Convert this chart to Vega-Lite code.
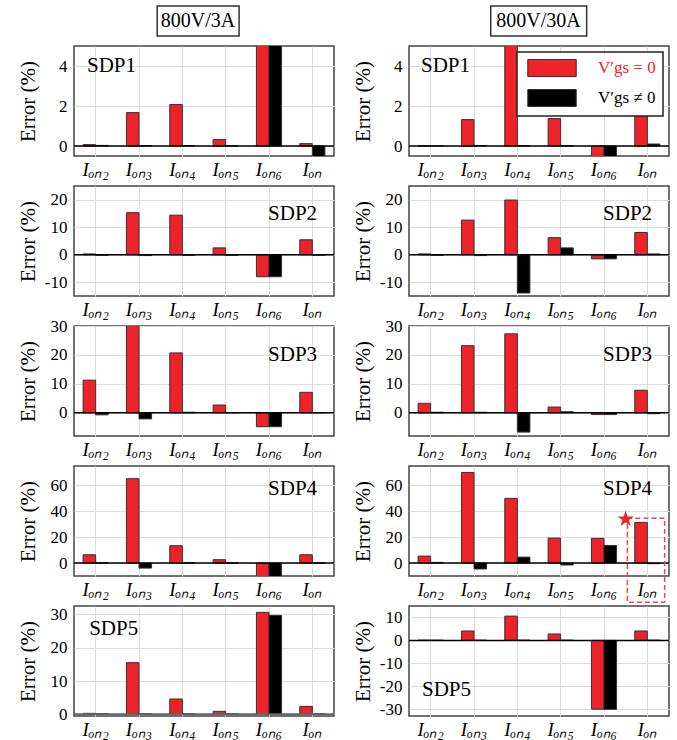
{
"$schema":"https://vega.github.io/schema/vega-lite/v6.json",
"padding":{"left":16,"top":4,"right":5,"bottom":2},
"datasets":{
"bars":[
{"p":"L1","c":"Iₒₙ₂","s":"eq","v":0.07},{"p":"L1","c":"Iₒₙ₂","s":"ne","v":0.03},
{"p":"L1","c":"Iₒₙ₃","s":"eq","v":1.67},{"p":"L1","c":"Iₒₙ₃","s":"ne","v":0.02},
{"p":"L1","c":"Iₒₙ₄","s":"eq","v":2.07},{"p":"L1","c":"Iₒₙ₄","s":"ne","v":0.02},
{"p":"L1","c":"Iₒₙ₅","s":"eq","v":0.33},{"p":"L1","c":"Iₒₙ₅","s":"ne","v":0.01},
{"p":"L1","c":"Iₒₙ₆","s":"eq","v":8},{"p":"L1","c":"Iₒₙ₆","s":"ne","v":7},
{"p":"L1","c":"Iₒₙ","s":"eq","v":0.12},{"p":"L1","c":"Iₒₙ","s":"ne","v":-0.6},
{"p":"R1","c":"Iₒₙ₂","s":"eq","v":0.01},{"p":"R1","c":"Iₒₙ₂","s":"ne","v":0.01},
{"p":"R1","c":"Iₒₙ₃","s":"eq","v":1.32},{"p":"R1","c":"Iₒₙ₃","s":"ne","v":0.02},
{"p":"R1","c":"Iₒₙ₄","s":"eq","v":6.5},{"p":"R1","c":"Iₒₙ₄","s":"ne","v":0.02},
{"p":"R1","c":"Iₒₙ₅","s":"eq","v":1.37},{"p":"R1","c":"Iₒₙ₅","s":"ne","v":0.02},
{"p":"R1","c":"Iₒₙ₆","s":"eq","v":-0.6},{"p":"R1","c":"Iₒₙ₆","s":"ne","v":-0.6},
{"p":"R1","c":"Iₒₙ","s":"eq","v":1.73},{"p":"R1","c":"Iₒₙ","s":"ne","v":0.1},
{"p":"L2","c":"Iₒₙ₂","s":"eq","v":0.3},{"p":"L2","c":"Iₒₙ₂","s":"ne","v":-0.2},
{"p":"L2","c":"Iₒₙ₃","s":"eq","v":15.3},{"p":"L2","c":"Iₒₙ₃","s":"ne","v":-0.3},
{"p":"L2","c":"Iₒₙ₄","s":"eq","v":14.4},{"p":"L2","c":"Iₒₙ₄","s":"ne","v":-0.2},
{"p":"L2","c":"Iₒₙ₅","s":"eq","v":2.5},{"p":"L2","c":"Iₒₙ₅","s":"ne","v":-0.2},
{"p":"L2","c":"Iₒₙ₆","s":"eq","v":-8.0},{"p":"L2","c":"Iₒₙ₆","s":"ne","v":-8.0},
{"p":"L2","c":"Iₒₙ","s":"eq","v":5.45},{"p":"L2","c":"Iₒₙ","s":"ne","v":-0.2},
{"p":"R2","c":"Iₒₙ₂","s":"eq","v":0.3},{"p":"R2","c":"Iₒₙ₂","s":"ne","v":-0.2},
{"p":"R2","c":"Iₒₙ₃","s":"eq","v":12.6},{"p":"R2","c":"Iₒₙ₃","s":"ne","v":-0.3},
{"p":"R2","c":"Iₒₙ₄","s":"eq","v":19.9},{"p":"R2","c":"Iₒₙ₄","s":"ne","v":-13.9},
{"p":"R2","c":"Iₒₙ₅","s":"eq","v":6.2},{"p":"R2","c":"Iₒₙ₅","s":"ne","v":2.5},
{"p":"R2","c":"Iₒₙ₆","s":"eq","v":-1.5},{"p":"R2","c":"Iₒₙ₆","s":"ne","v":-1.5},
{"p":"R2","c":"Iₒₙ","s":"eq","v":8.1},{"p":"R2","c":"Iₒₙ","s":"ne","v":0.3},
{"p":"L3","c":"Iₒₙ₂","s":"eq","v":11.3},{"p":"L3","c":"Iₒₙ₂","s":"ne","v":-0.7},
{"p":"L3","c":"Iₒₙ₃","s":"eq","v":30.5},{"p":"L3","c":"Iₒₙ₃","s":"ne","v":-2.1},
{"p":"L3","c":"Iₒₙ₄","s":"eq","v":20.7},{"p":"L3","c":"Iₒₙ₄","s":"ne","v":0.2},
{"p":"L3","c":"Iₒₙ₅","s":"eq","v":2.7},{"p":"L3","c":"Iₒₙ₅","s":"ne","v":0.1},
{"p":"L3","c":"Iₒₙ₆","s":"eq","v":-4.8},{"p":"L3","c":"Iₒₙ₆","s":"ne","v":-4.8},
{"p":"L3","c":"Iₒₙ","s":"eq","v":7.1},{"p":"L3","c":"Iₒₙ","s":"ne","v":0.1},
{"p":"R3","c":"Iₒₙ₂","s":"eq","v":3.3},{"p":"R3","c":"Iₒₙ₂","s":"ne","v":0.2},
{"p":"R3","c":"Iₒₙ₃","s":"eq","v":23.2},{"p":"R3","c":"Iₒₙ₃","s":"ne","v":0.2},
{"p":"R3","c":"Iₒₙ₄","s":"eq","v":27.3},{"p":"R3","c":"Iₒₙ₄","s":"ne","v":-6.65},
{"p":"R3","c":"Iₒₙ₅","s":"eq","v":2.0},{"p":"R3","c":"Iₒₙ₅","s":"ne","v":0.4},
{"p":"R3","c":"Iₒₙ₆","s":"eq","v":-0.6},{"p":"R3","c":"Iₒₙ₆","s":"ne","v":-0.6},
{"p":"R3","c":"Iₒₙ","s":"eq","v":7.8},{"p":"R3","c":"Iₒₙ","s":"ne","v":-0.3},
{"p":"L4","c":"Iₒₙ₂","s":"eq","v":6.4},{"p":"L4","c":"Iₒₙ₂","s":"ne","v":0.3},
{"p":"L4","c":"Iₒₙ₃","s":"eq","v":65.2},{"p":"L4","c":"Iₒₙ₃","s":"ne","v":-3.9},
{"p":"L4","c":"Iₒₙ₄","s":"eq","v":13.4},{"p":"L4","c":"Iₒₙ₄","s":"ne","v":0.3},
{"p":"L4","c":"Iₒₙ₅","s":"eq","v":2.6},{"p":"L4","c":"Iₒₙ₅","s":"ne","v":0.3},
{"p":"L4","c":"Iₒₙ₆","s":"eq","v":-12},{"p":"L4","c":"Iₒₙ₆","s":"ne","v":-12},
{"p":"L4","c":"Iₒₙ","s":"eq","v":6.4},{"p":"L4","c":"Iₒₙ","s":"ne","v":0.3},
{"p":"R4","c":"Iₒₙ₂","s":"eq","v":5.4},{"p":"R4","c":"Iₒₙ₂","s":"ne","v":0.5},
{"p":"R4","c":"Iₒₙ₃","s":"eq","v":70},{"p":"R4","c":"Iₒₙ₃","s":"ne","v":-4.6},
{"p":"R4","c":"Iₒₙ₄","s":"eq","v":50},{"p":"R4","c":"Iₒₙ₄","s":"ne","v":4.6},
{"p":"R4","c":"Iₒₙ₅","s":"eq","v":19.3},{"p":"R4","c":"Iₒₙ₅","s":"ne","v":-1.5},
{"p":"R4","c":"Iₒₙ₆","s":"eq","v":19.1},{"p":"R4","c":"Iₒₙ₆","s":"ne","v":13.6},
{"p":"R4","c":"Iₒₙ","s":"eq","v":31.4},{"p":"R4","c":"Iₒₙ","s":"ne","v":-0.5},
{"p":"L5","c":"Iₒₙ₂","s":"eq","v":0.3},{"p":"L5","c":"Iₒₙ₂","s":"ne","v":0.2},
{"p":"L5","c":"Iₒₙ₃","s":"eq","v":15.5},{"p":"L5","c":"Iₒₙ₃","s":"ne","v":0.2},
{"p":"L5","c":"Iₒₙ₄","s":"eq","v":4.6},{"p":"L5","c":"Iₒₙ₄","s":"ne","v":0.2},
{"p":"L5","c":"Iₒₙ₅","s":"eq","v":0.9},{"p":"L5","c":"Iₒₙ₅","s":"ne","v":0.2},
{"p":"L5","c":"Iₒₙ₆","s":"eq","v":30.6},{"p":"L5","c":"Iₒₙ₆","s":"ne","v":29.7},
{"p":"L5","c":"Iₒₙ","s":"eq","v":2.4},{"p":"L5","c":"Iₒₙ","s":"ne","v":0.2},
{"p":"R5","c":"Iₒₙ₂","s":"eq","v":0.1},{"p":"R5","c":"Iₒₙ₂","s":"ne","v":0.1},
{"p":"R5","c":"Iₒₙ₃","s":"eq","v":4.1},{"p":"R5","c":"Iₒₙ₃","s":"ne","v":0.1},
{"p":"R5","c":"Iₒₙ₄","s":"eq","v":10.6},{"p":"R5","c":"Iₒₙ₄","s":"ne","v":0.1},
{"p":"R5","c":"Iₒₙ₅","s":"eq","v":2.8},{"p":"R5","c":"Iₒₙ₅","s":"ne","v":0.1},
{"p":"R5","c":"Iₒₙ₆","s":"eq","v":-30},{"p":"R5","c":"Iₒₙ₆","s":"ne","v":-30.1},
{"p":"R5","c":"Iₒₙ","s":"eq","v":4.1},{"p":"R5","c":"Iₒₙ","s":"ne","v":0.1}
],
"labels":[
{"p":"L1","x":0.3,"y":4,"t":"SDP1"},{"p":"R1","x":0.277,"y":4,"t":"SDP1"},
{"p":"L2","x":5.61,"y":15,"t":"SDP2"},{"p":"R2","x":5.61,"y":15,"t":"SDP2"},
{"p":"L3","x":5.61,"y":20,"t":"SDP3"},{"p":"R3","x":5.61,"y":20,"t":"SDP3"},
{"p":"L4","x":5.61,"y":57,"t":"SDP4"},{"p":"R4","x":5.61,"y":57,"t":"SDP4"},
{"p":"L5","x":0.35,"y":25.5,"t":"SDP5"},{"p":"R5","x":0.3,"y":-21.7,"t":"SDP5"}
],
"headers":[
{"p":"L1","x":1.92,"x2":3.81,"y":5.5,"y2":7.0,"xm":2.86,"ym":6.25,"t":"800V/3A"},
{"p":"R1","x":1.886,"x2":4.10,"y":5.5,"y2":7.0,"xm":2.99,"ym":6.25,"t":"800V/30A"}
],
"marks":[
{"p":"R4","x":5.04,"x2":5.9,"y":34.7,"y2":-30.3,"sx":5.0,"sy":34}
]
},
"columns":2,
"spacing":{"row":30,"column":75},
"bounds":"flush",
"resolve":{"scale":{"color":"independent"},"legend":{"color":"independent"}},
"concat":[
{"width":260,"height":110,"resolve":{"scale":{"x":"independent"}},"layer":[
 {"data":{"name":"bars"},"transform":[{"filter":"datum.p=='L1'"}],"mark":{"type":"bar","clip":true,"stroke":"#333333","strokeWidth":1},
  "encoding":{"x":{"field":"c","type":"nominal","sort":["Iₒₙ₂","Iₒₙ₃","Iₒₙ₄","Iₒₙ₅","Iₒₙ₆","Iₒₙ"],"title":null,"scale":{"paddingInner":0.42,"paddingOuter":0.21},"axis":{"bandPosition":0.5}},
   "xOffset":{"field":"s","type":"nominal","sort":["eq","ne"]},
   "y":{"field":"v","type":"quantitative","scale":{"domain":[-0.5,5],"nice":false,"zero":false},"axis":{"values":[0,2,4],"tickCount":20,"title":"Error (%)","labelOverlap":false}},
   "color":{"field":"s","type":"nominal","scale":{"domain":["eq","ne"],"range":["#ee2229","#000000"]},"legend":null}}},
 {"data":{"values":[{}]},"mark":{"type":"rule","color":"#000000","strokeWidth":1.5},"encoding":{"y":{"datum":0}}},
 {"layer":[
  {"data":{"name":"labels"},"transform":[{"filter":"datum.p=='L1'"}],"mark":{"type":"text","align":"left","baseline":"middle","fontSize":21},
   "encoding":{"x":{"field":"x","type":"quantitative","scale":{"domain":[0,6]},"axis":null},"y":{"field":"y","type":"quantitative","scale":{"domain":[-0.5,5],"nice":false,"zero":false}},"text":{"field":"t"}}},
  {"data":{"name":"headers"},"transform":[{"filter":"datum.p=='L1'"}],"mark":{"type":"rect","fill":"#ffffff","stroke":"#333333","strokeWidth":1.5,"clip":false},
   "encoding":{"x":{"field":"x","type":"quantitative","scale":{"domain":[0,6]},"axis":null},"x2":{"field":"x2"},"y":{"field":"y","type":"quantitative","scale":{"domain":[-0.5,5],"nice":false,"zero":false}},"y2":{"field":"y2"}}},
  {"data":{"name":"headers"},"transform":[{"filter":"datum.p=='L1'"}],"mark":{"type":"text","align":"center","baseline":"middle","fontSize":20},
   "encoding":{"x":{"field":"xm","type":"quantitative","scale":{"domain":[0,6]},"axis":null},"y":{"field":"ym","type":"quantitative","scale":{"domain":[-0.5,5],"nice":false,"zero":false}},"text":{"field":"t"}}}
 ]}
]},
{"width":260,"height":110,"resolve":{"scale":{"x":"independent"}},"layer":[
 {"data":{"name":"bars"},"transform":[{"filter":"datum.p=='R1'"}],"mark":{"type":"bar","clip":true,"stroke":"#333333","strokeWidth":1},
  "encoding":{"x":{"field":"c","type":"nominal","sort":["Iₒₙ₂","Iₒₙ₃","Iₒₙ₄","Iₒₙ₅","Iₒₙ₆","Iₒₙ"],"title":null,"scale":{"paddingInner":0.42,"paddingOuter":0.21},"axis":{"bandPosition":0.5}},
   "xOffset":{"field":"s","type":"nominal","sort":["eq","ne"]},
   "y":{"field":"v","type":"quantitative","scale":{"domain":[-0.5,5],"nice":false,"zero":false},"axis":{"values":[0,2,4],"tickCount":20,"title":"Error (%)","labelOverlap":false}},
   "color":{"field":"s","type":"nominal","scale":{"domain":["eq","ne"],"range":["#ee2229","#000000"]},
    "legend":{"orient":"top-right","title":null,"offset":6,"padding":7,"fillColor":"#ffffff","strokeColor":"#222222","symbolType":"M-2.85,-1H2.85V1H-2.85Z","symbolSize":289,"symbolOffset":19,"symbolStrokeColor":"#333333","symbolStrokeWidth":1,"labelFontSize":17,"labelOffset":37,"rowPadding":8,"labelFont":"Liberation Serif",
     "labelExpr":"datum.value == 'eq' ? 'V′gs = 0' : 'V′gs ≠ 0'",
     "encode":{"legend":{"update":{"strokeWidth":{"value":1.5}}},"labels":{"update":{"fill":{"signal":"datum.value == 'eq' ? '#ee2229' : '#000000'"}}}}}}}},
 {"data":{"values":[{}]},"mark":{"type":"rule","color":"#000000","strokeWidth":1.5},"encoding":{"y":{"datum":0}}},
 {"layer":[
  {"data":{"name":"labels"},"transform":[{"filter":"datum.p=='R1'"}],"mark":{"type":"text","align":"left","baseline":"middle","fontSize":21},
   "encoding":{"x":{"field":"x","type":"quantitative","scale":{"domain":[0,6]},"axis":null},"y":{"field":"y","type":"quantitative","scale":{"domain":[-0.5,5],"nice":false,"zero":false}},"text":{"field":"t"}}},
  {"data":{"name":"headers"},"transform":[{"filter":"datum.p=='R1'"}],"mark":{"type":"rect","fill":"#ffffff","stroke":"#333333","strokeWidth":1.5,"clip":false},
   "encoding":{"x":{"field":"x","type":"quantitative","scale":{"domain":[0,6]},"axis":null},"x2":{"field":"x2"},"y":{"field":"y","type":"quantitative","scale":{"domain":[-0.5,5],"nice":false,"zero":false}},"y2":{"field":"y2"}}},
  {"data":{"name":"headers"},"transform":[{"filter":"datum.p=='R1'"}],"mark":{"type":"text","align":"center","baseline":"middle","fontSize":20},
   "encoding":{"x":{"field":"xm","type":"quantitative","scale":{"domain":[0,6]},"axis":null},"y":{"field":"ym","type":"quantitative","scale":{"domain":[-0.5,5],"nice":false,"zero":false}},"text":{"field":"t"}}}
 ]}
]},
{"width":260,"height":110,"resolve":{"scale":{"x":"independent"}},"layer":[
 {"data":{"name":"bars"},"transform":[{"filter":"datum.p=='L2'"}],"mark":{"type":"bar","clip":true,"stroke":"#333333","strokeWidth":1},
  "encoding":{"x":{"field":"c","type":"nominal","sort":["Iₒₙ₂","Iₒₙ₃","Iₒₙ₄","Iₒₙ₅","Iₒₙ₆","Iₒₙ"],"title":null,"scale":{"paddingInner":0.42,"paddingOuter":0.21},"axis":{"bandPosition":0.5}},
   "xOffset":{"field":"s","type":"nominal","sort":["eq","ne"]},
   "y":{"field":"v","type":"quantitative","scale":{"domain":[-15,25],"nice":false,"zero":false},"axis":{"values":[-10,0,10,20],"tickCount":20,"title":"Error (%)","labelOverlap":false}},
   "color":{"field":"s","type":"nominal","scale":{"domain":["eq","ne"],"range":["#ee2229","#000000"]},"legend":null}}},
 {"data":{"values":[{}]},"mark":{"type":"rule","color":"#000000","strokeWidth":1.5},"encoding":{"y":{"datum":0}}},
 {"data":{"name":"labels"},"transform":[{"filter":"datum.p=='L2'"}],"mark":{"type":"text","align":"right","baseline":"middle","fontSize":21},
   "encoding":{"x":{"field":"x","type":"quantitative","scale":{"domain":[0,6]},"axis":null},"y":{"field":"y","type":"quantitative","scale":{"domain":[-15,25],"nice":false,"zero":false}},"text":{"field":"t"}}}
]},
{"width":260,"height":110,"resolve":{"scale":{"x":"independent"}},"layer":[
 {"data":{"name":"bars"},"transform":[{"filter":"datum.p=='R2'"}],"mark":{"type":"bar","clip":true,"stroke":"#333333","strokeWidth":1},
  "encoding":{"x":{"field":"c","type":"nominal","sort":["Iₒₙ₂","Iₒₙ₃","Iₒₙ₄","Iₒₙ₅","Iₒₙ₆","Iₒₙ"],"title":null,"scale":{"paddingInner":0.42,"paddingOuter":0.21},"axis":{"bandPosition":0.5}},
   "xOffset":{"field":"s","type":"nominal","sort":["eq","ne"]},
   "y":{"field":"v","type":"quantitative","scale":{"domain":[-15,25],"nice":false,"zero":false},"axis":{"values":[-10,0,10,20],"tickCount":20,"title":"Error (%)","labelOverlap":false}},
   "color":{"field":"s","type":"nominal","scale":{"domain":["eq","ne"],"range":["#ee2229","#000000"]},"legend":null}}},
 {"data":{"values":[{}]},"mark":{"type":"rule","color":"#000000","strokeWidth":1.5},"encoding":{"y":{"datum":0}}},
 {"data":{"name":"labels"},"transform":[{"filter":"datum.p=='R2'"}],"mark":{"type":"text","align":"right","baseline":"middle","fontSize":21},
   "encoding":{"x":{"field":"x","type":"quantitative","scale":{"domain":[0,6]},"axis":null},"y":{"field":"y","type":"quantitative","scale":{"domain":[-15,25],"nice":false,"zero":false}},"text":{"field":"t"}}}
]},
{"width":260,"height":110,"resolve":{"scale":{"x":"independent"}},"layer":[
 {"data":{"name":"bars"},"transform":[{"filter":"datum.p=='L3'"}],"mark":{"type":"bar","clip":true,"stroke":"#333333","strokeWidth":1},
  "encoding":{"x":{"field":"c","type":"nominal","sort":["Iₒₙ₂","Iₒₙ₃","Iₒₙ₄","Iₒₙ₅","Iₒₙ₆","Iₒₙ"],"title":null,"scale":{"paddingInner":0.42,"paddingOuter":0.21},"axis":{"bandPosition":0.5}},
   "xOffset":{"field":"s","type":"nominal","sort":["eq","ne"]},
   "y":{"field":"v","type":"quantitative","scale":{"domain":[-8,30],"nice":false,"zero":false},"axis":{"values":[0,10,20,30],"tickCount":20,"title":"Error (%)","labelOverlap":false}},
   "color":{"field":"s","type":"nominal","scale":{"domain":["eq","ne"],"range":["#ee2229","#000000"]},"legend":null}}},
 {"data":{"values":[{}]},"mark":{"type":"rule","color":"#000000","strokeWidth":1.5},"encoding":{"y":{"datum":0}}},
 {"data":{"name":"labels"},"transform":[{"filter":"datum.p=='L3'"}],"mark":{"type":"text","align":"right","baseline":"middle","fontSize":21},
   "encoding":{"x":{"field":"x","type":"quantitative","scale":{"domain":[0,6]},"axis":null},"y":{"field":"y","type":"quantitative","scale":{"domain":[-8,30],"nice":false,"zero":false}},"text":{"field":"t"}}}
]},
{"width":260,"height":110,"resolve":{"scale":{"x":"independent"}},"layer":[
 {"data":{"name":"bars"},"transform":[{"filter":"datum.p=='R3'"}],"mark":{"type":"bar","clip":true,"stroke":"#333333","strokeWidth":1},
  "encoding":{"x":{"field":"c","type":"nominal","sort":["Iₒₙ₂","Iₒₙ₃","Iₒₙ₄","Iₒₙ₅","Iₒₙ₆","Iₒₙ"],"title":null,"scale":{"paddingInner":0.42,"paddingOuter":0.21},"axis":{"bandPosition":0.5}},
   "xOffset":{"field":"s","type":"nominal","sort":["eq","ne"]},
   "y":{"field":"v","type":"quantitative","scale":{"domain":[-8,30],"nice":false,"zero":false},"axis":{"values":[0,10,20,30],"tickCount":20,"title":"Error (%)","labelOverlap":false}},
   "color":{"field":"s","type":"nominal","scale":{"domain":["eq","ne"],"range":["#ee2229","#000000"]},"legend":null}}},
 {"data":{"values":[{}]},"mark":{"type":"rule","color":"#000000","strokeWidth":1.5},"encoding":{"y":{"datum":0}}},
 {"data":{"name":"labels"},"transform":[{"filter":"datum.p=='R3'"}],"mark":{"type":"text","align":"right","baseline":"middle","fontSize":21},
   "encoding":{"x":{"field":"x","type":"quantitative","scale":{"domain":[0,6]},"axis":null},"y":{"field":"y","type":"quantitative","scale":{"domain":[-8,30],"nice":false,"zero":false}},"text":{"field":"t"}}}
]},
{"width":260,"height":110,"resolve":{"scale":{"x":"independent"}},"layer":[
 {"data":{"name":"bars"},"transform":[{"filter":"datum.p=='L4'"}],"mark":{"type":"bar","clip":true,"stroke":"#333333","strokeWidth":1},
  "encoding":{"x":{"field":"c","type":"nominal","sort":["Iₒₙ₂","Iₒₙ₃","Iₒₙ₄","Iₒₙ₅","Iₒₙ₆","Iₒₙ"],"title":null,"scale":{"paddingInner":0.42,"paddingOuter":0.21},"axis":{"bandPosition":0.5}},
   "xOffset":{"field":"s","type":"nominal","sort":["eq","ne"]},
   "y":{"field":"v","type":"quantitative","scale":{"domain":[-10,75],"nice":false,"zero":false},"axis":{"values":[0,20,40,60],"tickCount":20,"title":"Error (%)","labelOverlap":false}},
   "color":{"field":"s","type":"nominal","scale":{"domain":["eq","ne"],"range":["#ee2229","#000000"]},"legend":null}}},
 {"data":{"values":[{}]},"mark":{"type":"rule","color":"#000000","strokeWidth":1.5},"encoding":{"y":{"datum":0}}},
 {"data":{"name":"labels"},"transform":[{"filter":"datum.p=='L4'"}],"mark":{"type":"text","align":"right","baseline":"middle","fontSize":21},
   "encoding":{"x":{"field":"x","type":"quantitative","scale":{"domain":[0,6]},"axis":null},"y":{"field":"y","type":"quantitative","scale":{"domain":[-10,75],"nice":false,"zero":false}},"text":{"field":"t"}}}
]},
{"width":260,"height":110,"resolve":{"scale":{"x":"independent"}},"layer":[
 {"data":{"name":"bars"},"transform":[{"filter":"datum.p=='R4'"}],"mark":{"type":"bar","clip":true,"stroke":"#333333","strokeWidth":1},
  "encoding":{"x":{"field":"c","type":"nominal","sort":["Iₒₙ₂","Iₒₙ₃","Iₒₙ₄","Iₒₙ₅","Iₒₙ₆","Iₒₙ"],"title":null,"scale":{"paddingInner":0.42,"paddingOuter":0.21},"axis":{"bandPosition":0.5}},
   "xOffset":{"field":"s","type":"nominal","sort":["eq","ne"]},
   "y":{"field":"v","type":"quantitative","scale":{"domain":[-10,75],"nice":false,"zero":false},"axis":{"values":[0,20,40,60],"tickCount":20,"title":"Error (%)","labelOverlap":false}},
   "color":{"field":"s","type":"nominal","scale":{"domain":["eq","ne"],"range":["#ee2229","#000000"]},"legend":null}}},
 {"data":{"values":[{}]},"mark":{"type":"rule","color":"#000000","strokeWidth":1.5},"encoding":{"y":{"datum":0}}},
 {"layer":[
  {"data":{"name":"labels"},"transform":[{"filter":"datum.p=='R4'"}],"mark":{"type":"text","align":"right","baseline":"middle","fontSize":21},
   "encoding":{"x":{"field":"x","type":"quantitative","scale":{"domain":[0,6]},"axis":null},"y":{"field":"y","type":"quantitative","scale":{"domain":[-10,75],"nice":false,"zero":false}},"text":{"field":"t"}}},
  {"data":{"name":"marks"},"mark":{"type":"rect","fillOpacity":0,"stroke":"#f04a50","strokeWidth":1.5,"strokeDash":[5,3],"clip":false},
   "encoding":{"x":{"field":"x","type":"quantitative","scale":{"domain":[0,6]},"axis":null},"x2":{"field":"x2"},"y":{"field":"y","type":"quantitative","scale":{"domain":[-10,75],"nice":false,"zero":false}},"y2":{"field":"y2"}}},
  {"data":{"name":"marks"},"mark":{"type":"point","filled":true,"color":"#ee2229","opacity":1,"size":300,"shape":"M0,-1L0.2245,-0.309L0.951,-0.309L0.363,0.118L0.588,0.809L0,0.382L-0.588,0.809L-0.363,0.118L-0.951,-0.309L-0.2245,-0.309Z","clip":false},
   "encoding":{"x":{"field":"sx","type":"quantitative","scale":{"domain":[0,6]},"axis":null},"y":{"field":"sy","type":"quantitative","scale":{"domain":[-10,75],"nice":false,"zero":false}}}}
 ]}
]},
{"width":260,"height":110,"resolve":{"scale":{"x":"independent"}},"layer":[
 {"data":{"name":"bars"},"transform":[{"filter":"datum.p=='L5'"}],"mark":{"type":"bar","clip":true,"stroke":"#333333","strokeWidth":1},
  "encoding":{"x":{"field":"c","type":"nominal","sort":["Iₒₙ₂","Iₒₙ₃","Iₒₙ₄","Iₒₙ₅","Iₒₙ₆","Iₒₙ"],"title":null,"scale":{"paddingInner":0.42,"paddingOuter":0.21},"axis":{"bandPosition":0.5}},
   "xOffset":{"field":"s","type":"nominal","sort":["eq","ne"]},
   "y":{"field":"v","type":"quantitative","scale":{"domain":[-0.5,32.5],"nice":false,"zero":false},"axis":{"values":[0,10,20,30],"tickCount":20,"title":"Error (%)","labelOverlap":false}},
   "color":{"field":"s","type":"nominal","scale":{"domain":["eq","ne"],"range":["#ee2229","#000000"]},"legend":null}}},
 {"data":{"values":[{}]},"mark":{"type":"rule","color":"#666666","strokeWidth":2},"encoding":{"y":{"datum":0}}},
 {"data":{"name":"labels"},"transform":[{"filter":"datum.p=='L5'"}],"mark":{"type":"text","align":"left","baseline":"middle","fontSize":21},
   "encoding":{"x":{"field":"x","type":"quantitative","scale":{"domain":[0,6]},"axis":null},"y":{"field":"y","type":"quantitative","scale":{"domain":[-0.5,32.5],"nice":false,"zero":false}},"text":{"field":"t"}}}
]},
{"width":260,"height":110,"resolve":{"scale":{"x":"independent"}},"layer":[
 {"data":{"name":"bars"},"transform":[{"filter":"datum.p=='R5'"}],"mark":{"type":"bar","clip":true,"stroke":"#333333","strokeWidth":1},
  "encoding":{"x":{"field":"c","type":"nominal","sort":["Iₒₙ₂","Iₒₙ₃","Iₒₙ₄","Iₒₙ₅","Iₒₙ₆","Iₒₙ"],"title":null,"scale":{"paddingInner":0.42,"paddingOuter":0.21},"axis":{"bandPosition":0.5}},
   "xOffset":{"field":"s","type":"nominal","sort":["eq","ne"]},
   "y":{"field":"v","type":"quantitative","scale":{"domain":[-33,15],"nice":false,"zero":false},"axis":{"values":[-30,-20,-10,0,10],"tickCount":20,"title":"Error (%)","labelOverlap":false}},
   "color":{"field":"s","type":"nominal","scale":{"domain":["eq","ne"],"range":["#ee2229","#000000"]},"legend":null}}},
 {"data":{"values":[{}]},"mark":{"type":"rule","color":"#000000","strokeWidth":1.5},"encoding":{"y":{"datum":0}}},
 {"data":{"name":"labels"},"transform":[{"filter":"datum.p=='R5'"}],"mark":{"type":"text","align":"left","baseline":"middle","fontSize":21},
   "encoding":{"x":{"field":"x","type":"quantitative","scale":{"domain":[0,6]},"axis":null},"y":{"field":"y","type":"quantitative","scale":{"domain":[-33,15],"nice":false,"zero":false}},"text":{"field":"t"}}}
]}
],
"config":{
 "font":"Liberation Serif",
 "view":{"stroke":"#444444","strokeWidth":1.5},
 "axis":{"labelFont":"Liberation Serif","labelColor":"#000000","labelFontSize":17,"titleFont":"Liberation Serif","titleFontSize":21,"titleFontWeight":"normal","titleColor":"#000000","ticks":false,"tickSize":0,"domain":false,"grid":true,"gridColor":"#dddddd","gridWidth":1},
 "axisX":{"labelAngle":0,"labelFontSize":19,"labelFontStyle":"italic","labelPadding":4},
 "axisY":{"labelPadding":7,"labelFlush":false,"titleX":-46,"titleY":55,"titleBaseline":"middle","titleAlign":"center","labelExpr":"datum.value < 0 ? '-' + abs(datum.value) : '' + datum.value"},
 "text":{"font":"Liberation Serif","color":"#000000"}
}
}
